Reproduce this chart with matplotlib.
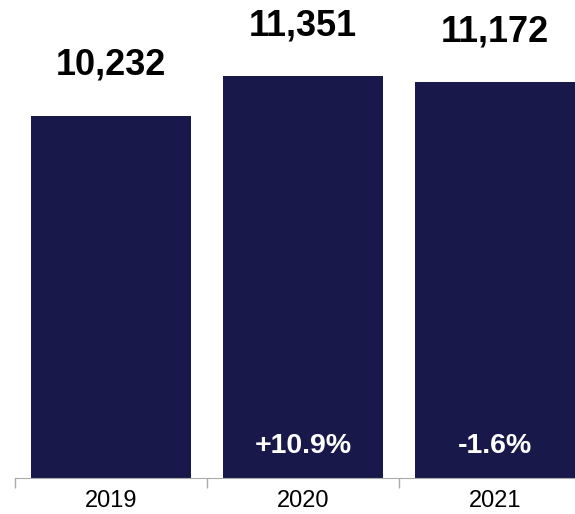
import matplotlib.pyplot as plt

years = ["2019", "2020", "2021"]
values = [10232, 11351, 11172]
changes = ["", "+10.9%", "-1.6%"]

plt.rcParams['font.family'] = ['Liberation Sans', 'DejaVu Sans']

fig = plt.figure(figsize=(5.75, 5.14), dpi=100)
# axes runs a little past the right edge, like the original
ax = fig.add_axes([15/575, 36/514, 576/575, 478/514])

x = range(len(years))
bars = ax.bar(x, values, width=0.833, color='#18184a')

ax.set_xlim(-0.5, 2.5)
ax.set_ylim(0, 478 * 11351 / 402)

for i, (v, c) in enumerate(zip(values, changes)):
    ax.annotate(f"{v:,}", xy=(i, v), xytext=(0, 29.5), textcoords='offset points',
                ha='center', va='baseline', fontsize=26, fontweight='bold', color='black')
    if c:
        ax.annotate(c, xy=(i, 0), xytext=(0, 18), textcoords='offset points',
                    ha='center', va='baseline', fontsize=20.5, fontweight='bold', color='white')

ax.set_xticks(list(x), years)
ax.set_xticks([-0.5, 0.5, 1.5], minor=True)
ax.tick_params(axis='x', which='major', length=0, pad=8.5, labelsize=17)
ax.tick_params(axis='x', which='minor', length=7, width=1, color='#aaaaaa')
ax.set_yticks([])
for s in ['top', 'right', 'left']:
    ax.spines[s].set_visible(False)
ax.spines['bottom'].set_color('#aaaaaa')

fig.savefig('out.png', dpi=100)
